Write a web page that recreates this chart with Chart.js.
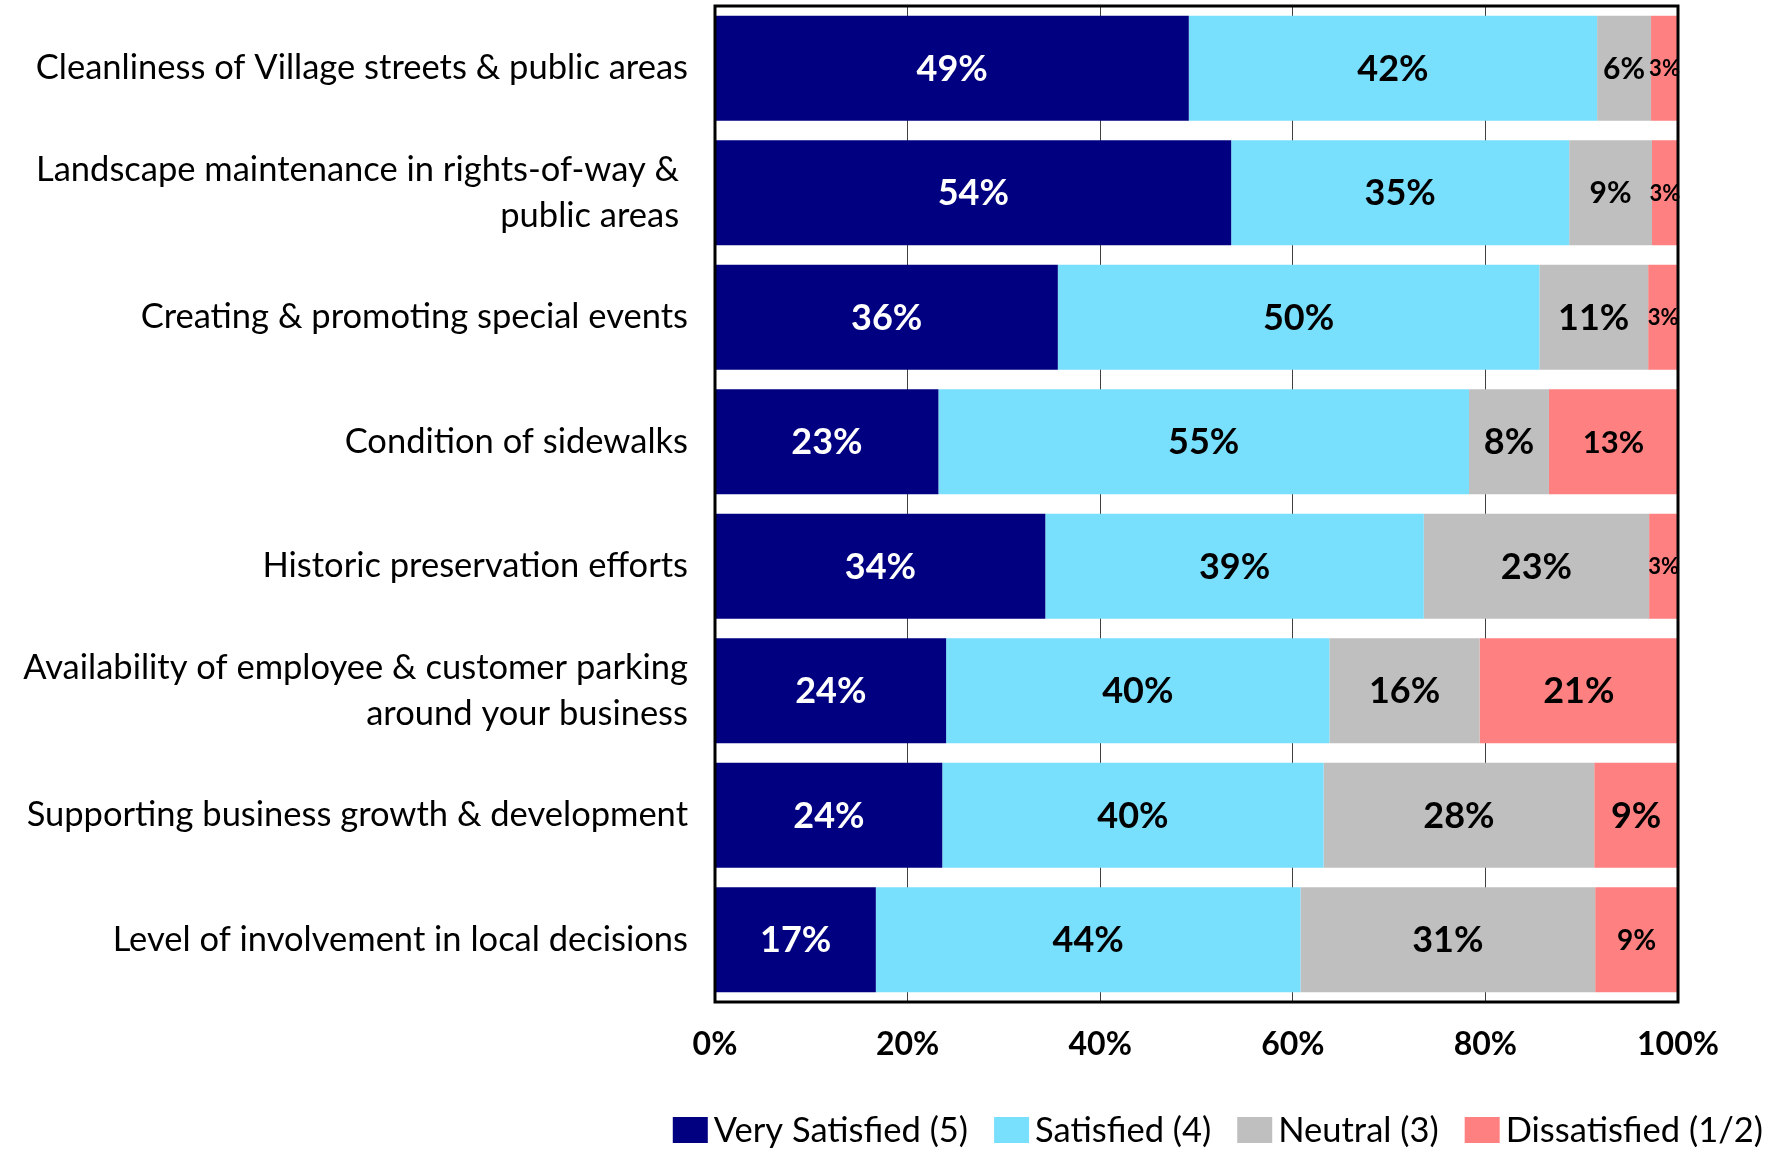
<!DOCTYPE html>
<html>
<head>
<meta charset="utf-8">
<title>Satisfaction with Village services</title>
<script src="https://cdn.jsdelivr.net/npm/chart.js@4.4.1/dist/chart.umd.min.js"></script>
<style>
    html, body { margin: 0; padding: 0; background: #fff; }
    #wrap { width: 1778px; height: 1150px; position: relative; }
</style>
</head>
<body>
<div id="wrap"><canvas id="satisfaction-chart"></canvas></div>
<script>
// Survey rows and the share of each answer (percent of respondents)
const categories = [
    'Cleanliness of Village streets & public areas',
    ['Landscape maintenance in rights-of-way & ', 'public areas '],
    'Creating & promoting special events',
    'Condition of sidewalks',
    'Historic preservation efforts',
    ['Availability of employee & customer parking', 'around your business'],
    'Supporting business growth & development',
    'Level of involvement in local decisions'
];
const seriesNames = ['Very Satisfied (5)', 'Satisfied (4)', 'Neutral (3)', 'Dissatisfied (1/2)'];
const verySatisfied = [49.2, 53.6, 35.6, 23.2, 34.3, 24.0, 23.6, 16.7];
const satisfied = [42.4, 35.1, 50.0, 55.1, 39.3, 39.8, 39.6, 44.1];
const neutral = [5.6, 8.6, 11.3, 8.3, 23.4, 15.6, 28.1, 30.6];
const dissatisfied = [2.8, 2.7, 3.1, 13.4, 3.0, 20.6, 8.7, 8.6];
const xTickValues = [0, 20, 40, 60, 80, 100];

const seriesColors = ['#000080', '#78DFFD', '#BFBFBF', '#FF8080'];
const labelColors = ['#ffffff', '#000000', '#000000', '#000000'];

// smaller value labels in the narrow segments (row-dataset)
const labelSizes = { '0-2': 30, '0-3': 22, '1-2': 30, '1-3': 22, '2-3': 22, '3-3': 31, '4-3': 22, '7-3': 28 };
const defaultLabelSize = 36;

const fontFamily = 'Lato, "Open Sans", sans-serif';
Chart.defaults.font.family = fontFamily;
Chart.defaults.color = '#000';

// writes the rounded percentage in the middle of each segment
const segmentLabels = {
    id: 'segmentLabels',
    afterDatasetsDraw(chart) {
        const ctx = chart.ctx;
        ctx.save();
        ctx.textAlign = 'center';
        ctx.textBaseline = 'middle';
        chart.data.datasets.forEach((ds, i) => {
            const meta = chart.getDatasetMeta(i);
            meta.data.forEach((bar, j) => {
                const p = bar.getProps(['x', 'y', 'base'], true);
                const size = labelSizes[j + '-' + i] || defaultLabelSize;
                ctx.font = 'bold ' + size + 'px ' + fontFamily;
                ctx.fillStyle = labelColors[i];
                ctx.fillText(Math.round(ds.data[j]) + '%', (p.x + p.base) / 2, p.y + 1);
            });
        });
        ctx.restore();
    }
};

// black frame round the plot area
const plotFrame = {
    id: 'plotFrame',
    afterDraw(chart) {
        const a = chart.chartArea;
        const ctx = chart.ctx;
        ctx.save();
        ctx.strokeStyle = '#000';
        ctx.lineWidth = 3;
        ctx.strokeRect(a.left, a.top, a.right - a.left, a.bottom - a.top);
        ctx.restore();
    }
};

// legend row along the bottom right, box sitting close to its text
const legendRow = {
    id: 'legendRow',
    afterDraw(chart, args, opts) {
        const ctx = chart.ctx;
        ctx.save();
        ctx.font = opts.fontSize + 'px ' + fontFamily;
        ctx.textBaseline = 'middle';
        ctx.textAlign = 'left';
        const items = chart.data.datasets.map(ds => ({
            text: ds.label,
            color: ds.backgroundColor,
            width: opts.boxWidth + opts.gap + ctx.measureText(ds.label).width
        }));
        const total = items.reduce((s, it) => s + it.width, 0) + opts.spacing * (items.length - 1);
        let x = chart.width - opts.right - total;
        const y = chart.height - opts.bottom;
        items.forEach(it => {
            ctx.fillStyle = it.color;
            ctx.fillRect(x, y - opts.boxHeight / 2, opts.boxWidth, opts.boxHeight);
            ctx.fillStyle = '#000';
            ctx.fillText(it.text, x + opts.boxWidth + opts.gap, y + 1);
            x += it.width + opts.spacing;
        });
        ctx.restore();
    }
};

const noOverhang = scale => {
    scale.paddingTop = 0;
    scale.paddingBottom = 0;
    scale.paddingLeft = 0;
    scale.paddingRight = 0;
};

const seriesData = [verySatisfied, satisfied, neutral, dissatisfied];

new Chart(document.getElementById('satisfaction-chart').getContext('2d'), {
    type: 'bar',
    data: {
        labels: categories,
        datasets: seriesNames.map((name, i) => ({
            label: name,
            data: seriesData[i],
            backgroundColor: seriesColors[i],
            borderWidth: 0,
            categoryPercentage: 0.845,
            barPercentage: 1
        }))
    },
    options: {
        indexAxis: 'y',
        responsive: true,
        maintainAspectRatio: false,
        animation: false,
        layout: {
            padding: { top: 6, right: 15, bottom: 59, left: 0 }
        },
        plugins: {
            tooltip: { enabled: false },
            legend: { display: false },
            legendRow: {
                fontSize: 34.5,
                boxWidth: 35,
                boxHeight: 26,
                gap: 6,
                spacing: 26,
                right: 15,
                bottom: 20
            }
        },
        scales: {
            x: {
                stacked: true,
                min: 0,
                max: 100,
                afterBuildTicks: scale => {
                    scale.ticks = xTickValues.map(v => ({ value: v }));
                },
                afterFit: scale => {
                    scale.height = 89;
                    noOverhang(scale);
                },
                grid: {
                    color: '#404040',
                    lineWidth: 1,
                    drawTicks: false
                },
                border: { display: false },
                ticks: {
                    padding: 23,
                    font: { size: 32, weight: 'bold' },
                    callback: v => v + '%'
                }
            },
            y: {
                stacked: true,
                afterFit: scale => {
                    scale.width = 715;
                    noOverhang(scale);
                },
                grid: { display: false, drawTicks: false },
                border: { display: false },
                ticks: {
                    padding: 27,
                    font: { size: 34.5, lineHeight: 1.32 }
                }
            },
            yRight: {
                position: 'right',
                afterFit: scale => {
                    scale.width = 85;
                    noOverhang(scale);
                },
                grid: { display: false, drawTicks: false },
                border: { display: false },
                ticks: { display: false }
            }
        }
    },
    plugins: [segmentLabels, plotFrame, legendRow]
});
</script>
</body>
</html>
